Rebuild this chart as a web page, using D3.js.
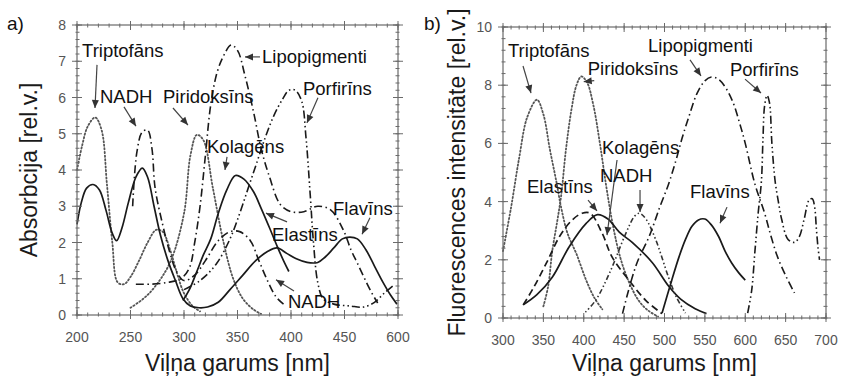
<!DOCTYPE html>
<html><head><meta charset="utf-8">
<script src="https://cdn.jsdelivr.net/npm/d3@7"></script>
<style>
body{margin:0;background:#fff}
text{font-family:Arial,"Liberation Sans",Helvetica,sans-serif}
</style>
</head><body>
<svg id="chart" width="841" height="376"></svg>
<script>
// ---------- Panel a) Absorption ----------
const absXTicks = [200,250,300,350,400,450,500];
const absXTickLabels = ["200","250","300","350","400","450","600"];
const absYTicks = [0,1,2,3,4,5,6,7,8];

const absTriptofans = [[200,4.0],[205,4.7],[210,5.2],[217,5.45],[223,5.1],[228,3.6],[233,2.0],[238,0.9],[244,0.85],[250,1.05],[258,1.5],[266,2.0],[274,2.35],[280,2.3],[287,1.8],[294,1.1],[300,0.6],[308,0.25],[315,0.1]];
const absPiridoksins = [[250,0.2],[262,0.45],[272,0.75],[287,1.45],[300,2.8],[306,4.4],[312,4.97],[318,4.83],[327,3.5],[337,2.0],[346,1.0],[355,0.45],[365,0.15],[372,0.03]];
const absNADH = [[252,3.0],[256,4.5],[261,5.05],[266,5.1],[270,4.6],[273,3.5],[280,2.5],[286,1.8],[293,1.2],[300,0.95],[310,1.1],[320,1.5],[332,2.05],[343,2.3],[352,2.3],[362,2.05],[370,1.5],[378,0.95],[386,0.5],[393,0.3]];
const absLipopigmenti = [[255,0.85],[270,0.85],[285,0.9],[297,1.0],[305,1.3],[310,2.0],[315,3.0],[320,4.4],[325,5.8],[331,6.7],[337,7.15],[344,7.45],[350,7.3],[357,6.6],[365,5.6],[372,4.6],[380,3.8],[390,3.05],[400,2.85],[412,2.85],[425,3.0],[437,2.9],[449,2.34],[456,1.8],[462,1.43],[474,0.69],[481,0.33]];
const absPorfirins = [[300,0.7],[315,0.95],[330,1.4],[343,2.1],[352,2.8],[360,3.5],[368,4.2],[376,4.9],[384,5.5],[392,5.95],[398,6.2],[404,6.2],[410,5.9],[414,4.9],[418,3.3],[421,2.0],[425,0.9],[430,0.45],[440,0.3],[455,0.25],[468,0.22],[478,0.35],[487,0.6],[495,0.8]];
const absElastins = [[200,2.5],[204,3.1],[209,3.5],[215,3.6],[221,3.45],[227,2.9],[233,2.25],[237,2.05],[242,2.4],[248,3.1],[255,3.8],[261,4.05],[266,3.8],[272,3.0],[278,2.2],[285,1.5],[292,0.95],[299,0.45],[306,0.25],[314,0.2],[322,0.22],[332,0.35],[343,0.7],[355,1.1],[367,1.5],[378,1.75],[387,1.85],[396,1.7],[405,1.55],[415,1.45],[425,1.45],[432,1.6],[440,1.85],[448,2.1],[455,2.15],[462,2.1],[470,1.8],[478,1.35],[486,0.9],[493,0.55],[499,0.3]];
const absKolagens = [[299,0.4],[305,0.7],[312,1.2],[318,1.65],[325,2.1],[332,2.8],[340,3.45],[348,3.85],[356,3.75],[365,3.4],[372,2.95],[380,2.4],[387,1.9],[393,1.5],[398,1.2]];

// ---------- Panel b) Fluorescence ----------
const flXTicks = [300,350,400,450,500,550,600,650,700];
const flXTickLabels = ["300","350","400","450","500","550","600","650","700"];
const flYTicks = [0,2,4,6,8,10];

const flTriptofans = [[300,2.3],[310,3.8],[320,5.5],[330,6.9],[342,7.5],[350,7.0],[358,5.8],[366,4.7],[372,3.8],[380,2.9],[391,2.2],[403,1.3],[413,0.7],[423,0.3]];
const flPiridoksins = [[350,0.4],[356,1.1],[361,2.3],[367,3.3],[372,4.2],[378,5.8],[385,7.2],[391,8.0],[397,8.3],[404,8.1],[412,7.3],[420,6.0],[428,4.5],[436,3.2],[445,2.1],[455,1.3],[468,0.6],[480,0.25],[492,0.05]];
const flElastins = [[325,0.45],[337,1.0],[354,1.9],[370,2.8],[385,3.35],[398,3.6],[408,3.6],[423,2.9],[435,2.1],[456,1.3],[477,0.6],[497,0.15]];
const flKolagens = [[325,0.45],[342,0.8],[361,1.4],[382,2.45],[403,3.25],[417,3.55],[430,3.4],[444,2.95],[460,2.6],[485,1.9],[505,1.1],[520,0.65],[538,0.32],[552,0.15]];
const flNADH = [[402,0.2],[415,0.62],[432,1.55],[452,2.9],[463,3.5],[469,3.6],[477,3.4],[489,2.7],[505,1.4],[515,0.7],[526,0.17]];
const flFlavins = [[497,0.17],[509,1.3],[518,2.1],[526,2.7],[534,3.15],[542,3.37],[550,3.4],[558,3.2],[567,2.8],[575,2.3],[583,1.9],[592,1.55],[600,1.3]];
const flLipopigmenti = [[448,0.15],[455,0.9],[466,1.9],[481,2.8],[494,3.8],[505,4.6],[514,5.4],[522,6.2],[530,6.9],[540,7.7],[550,8.15],[558,8.28],[567,8.2],[576,7.9],[585,7.4],[593,6.7],[600,6.0],[612,4.6],[624,3.6],[632,2.8],[640,2.1],[651,1.4],[661,0.86]];
const flPorfirins = [[603,0.17],[608,0.96],[612,2.3],[616,3.6],[620,4.7],[622,6.2],[624,7.3],[627,7.65],[630,7.4],[633,6.0],[637,4.7],[641,4.0],[645,3.4],[653,2.7],[661,2.6],[667,2.8],[673,3.4],[679,4.05],[683,4.1],[686,3.8],[688,3.1],[690,2.45],[692,2.0]];

// ---------- layout / styles (not data) ----------
const styles = {
  solid:   {stroke:"#1a1a1a", dash:null, w:1.7},
  dotted:  {stroke:"#555", dash:"1.3,2.3", w:1.8},
  dashed:  {stroke:"#1a1a1a", dash:"7,4", w:1.7},
  dashdot: {stroke:"#1a1a1a", dash:"8,3.5,1.5,3.5", w:1.6},
  dashdotdot: {stroke:"#1a1a1a", dash:"8,3,1.5,3,1.5,3", w:1.6},
  dotdash: {stroke:"#333", dash:"1.5,2.5,1.5,2.5,5,2.5", w:1.6}
};

const svg = d3.select("#chart");

function drawPanel(p){
  const x = d3.scaleLinear().domain(p.xDomain).range([p.left, p.right]);
  const y = d3.scaleLinear().domain(p.yDomain).range([p.bottom, p.top]);
  const g = svg.append("g");
  const frameColor = "#6a6a6a";

  // curves
  const line = d3.line().x(d=>x(d[0])).y(d=>y(d[1])).curve(d3.curveCatmullRom.alpha(0.5));
  p.series.forEach(s=>{
    const st = styles[s.style];
    g.append("path").datum(s.data).attr("d", line)
      .attr("fill","none").attr("stroke", st.stroke).attr("stroke-width", st.w)
      .attr("stroke-dasharray", st.dash).attr("stroke-linecap", s.style==="dotted"?"round":"butt");
  });

  // frame
  g.append("rect").attr("x",p.left).attr("y",p.top)
    .attr("width",p.right-p.left).attr("height",p.bottom-p.top)
    .attr("fill","none").attr("stroke",frameColor).attr("stroke-width",1.2);

  // minor ticks
  const xMinor = d3.range(p.xDomain[0], p.xDomain[1]+0.001, p.xMinorStep);
  const yMinor = d3.range(p.yDomain[0], p.yDomain[1]+0.001, p.yMinorStep);
  const tickG = g.append("g").attr("stroke",frameColor).attr("stroke-width",1);
  xMinor.forEach(v=>{
    tickG.append("line").attr("x1",x(v)).attr("x2",x(v)).attr("y1",p.bottom-2.5).attr("y2",p.bottom+1.5);
    tickG.append("line").attr("x1",x(v)).attr("x2",x(v)).attr("y1",p.top-1.5).attr("y2",p.top+2.5);
  });
  yMinor.forEach(v=>{
    tickG.append("line").attr("y1",y(v)).attr("y2",y(v)).attr("x1",p.left-1.5).attr("x2",p.left+2.5);
    tickG.append("line").attr("y1",y(v)).attr("y2",y(v)).attr("x1",p.right-2.5).attr("x2",p.right+1.5);
  });
  // major ticks
  p.xTicks.forEach(v=>{
    tickG.append("line").attr("x1",x(v)).attr("x2",x(v)).attr("y1",p.bottom-5).attr("y2",p.bottom+4);
    tickG.append("line").attr("x1",x(v)).attr("x2",x(v)).attr("y1",p.top-4).attr("y2",p.top+5);
  });
  p.yTicks.forEach(v=>{
    tickG.append("line").attr("y1",y(v)).attr("y2",y(v)).attr("x1",p.left-5).attr("x2",p.left+5);
    tickG.append("line").attr("y1",y(v)).attr("y2",y(v)).attr("x1",p.right-5).attr("x2",p.right+5);
  });

  // tick labels
  p.xTicks.forEach((v,i)=>{
    g.append("text").attr("x",x(v)).attr("y",p.bottom+27).attr("text-anchor","middle")
      .attr("font-size",14).attr("fill","#555").text(p.xTickLabels[i]);
  });
  p.yTicks.forEach(v=>{
    g.append("text").attr("x",p.left-11).attr("y",y(v)+5).attr("text-anchor","end")
      .attr("font-size",14).attr("fill","#555").text(v);
  });

  // axis titles
  g.append("text").attr("x",(p.left+p.right)/2).attr("y",371).attr("text-anchor","middle")
    .attr("font-size",23).attr("fill","#1a1a1a").text("Viļņa garums [nm]");
  g.append("text").attr("transform",`translate(${p.yTitleX},${(p.top+p.bottom)/2}) rotate(-90)`)
    .attr("text-anchor","middle").attr("font-size",23).attr("fill","#1a1a1a").text(p.yTitle);

  // panel letter
  g.append("text").attr("x",p.letterX).attr("y",30).attr("font-size",19).attr("fill","#111").text(p.letter);

  // annotations
  const defs = svg.select("defs").empty()? svg.append("defs") : svg.select("defs");
  p.labels.forEach(a=>{
    g.append("text").attr("x",x(a.at[0])).attr("y",y(a.at[1])).attr("font-size",18.5)
      .attr("fill","#111").text(a.text);
    if(a.from){
      const x1=x(a.from[0]), y1=y(a.from[1]), x2=x(a.to[0]), y2=y(a.to[1]);
      g.append("line").attr("x1",x1).attr("y1",y1).attr("x2",x2).attr("y2",y2)
        .attr("stroke","#444").attr("stroke-width",1.2);
      const ang = Math.atan2(y2-y1,x2-x1), L=8, W=3.5;
      const bx = x2-L*Math.cos(ang), by = y2-L*Math.sin(ang);
      const pts = [[x2,y2],[bx+W*Math.sin(ang),by-W*Math.cos(ang)],[bx-W*Math.sin(ang),by+W*Math.cos(ang)]];
      g.append("polygon").attr("points",pts.map(q=>q.join(",")).join(" ")).attr("fill","#333");
    }
  });
}

drawPanel({
  left:77, right:398, top:25, bottom:315,
  xDomain:[200,500], yDomain:[0,8], xMinorStep:10, yMinorStep:0.2,
  xTicks:absXTicks, xTickLabels:absXTickLabels, yTicks:absYTicks,
  yTitle:"Absorbcija [rel.v.]", yTitleX:37, letter:"a)", letterX:7,
  series:[
    {data:absTriptofans, style:"dotted"},
    {data:absPiridoksins, style:"dotted"},
    {data:absNADH, style:"dashdot"},
    {data:absLipopigmenti, style:"dashdot"},
    {data:absPorfirins, style:"dashdotdot"},
    {data:absElastins, style:"solid"},
    {data:absKolagens, style:"solid"}
  ],
  labels:[
    {text:"Triptofāns", at:[204.7,7.12], from:[218.7,6.9], to:[216.8,5.71]},
    {text:"NADH", at:[221.5,5.85], from:[243.9,5.74], to:[255.1,5.21]},
    {text:"Piridoksīns", at:[280.4,5.85], from:[289.7,5.71], to:[303.7,5.24]},
    {text:"Lipopigmenti", at:[372.9,6.95], from:[371,7.12], to:[357,7.12]},
    {text:"Porfirīns", at:[411.2,6.07], from:[425.2,5.99], to:[414.9,5.30]},
    {text:"Kolagēns", at:[321.5,4.47], from:[340.2,4.36], to:[338.3,4.0]},
    {text:"Flavīns", at:[439.3,2.76], from:[473.8,2.68], to:[466.4,2.23]},
    {text:"Elastīns", at:[382.2,2.04], from:[396.3,2.57], to:[376.6,2.81]},
    {text:"NADH", at:[397.2,0.19], from:[402.8,0.66], to:[386,0.97]}
  ]
});

drawPanel({
  left:503, right:826, top:27, bottom:318,
  xDomain:[300,700], yDomain:[0,10], xMinorStep:10, yMinorStep:0.4,
  xTicks:flXTicks, xTickLabels:flXTickLabels, yTicks:flYTicks,
  yTitle:"Fluorescences intensitāte [rel.v.]", yTitleX:465, letter:"b)", letterX:424,
  series:[
    {data:flTriptofans, style:"dotted"},
    {data:flPiridoksins, style:"dotted"},
    {data:flElastins, style:"dashed"},
    {data:flKolagens, style:"solid"},
    {data:flNADH, style:"dotdash"},
    {data:flFlavins, style:"solid"},
    {data:flLipopigmenti, style:"dashdot"},
    {data:flPorfirins, style:"dashdotdot"}
  ],
  labels:[
    {text:"Triptofāns", at:[306.2,8.97], from:[324.8,8.66], to:[334.7,7.73]},
    {text:"Piridoksīns", at:[405,8.35], from:[413,8.16], to:[400,8.12]},
    {text:"Lipopigmenti", at:[479.6,9.14], from:[531.6,8.87], to:[545.2,8.32]},
    {text:"Porfirīns", at:[581.1,8.32], from:[599.7,8.21], to:[619.5,7.73]},
    {text:"Kolagēns", at:[422.6,5.64], from:[441.2,5.43], to:[428.8,2.85]},
    {text:"NADH", at:[420.1,4.67], from:[469.7,4.40], to:[469.7,3.64]},
    {text:"Elastīns", at:[329.7,4.30], from:[405.3,4.05], to:[416.4,3.68]},
    {text:"Flavīns", at:[531.6,4.12], from:[577.4,3.81], to:[568.7,3.26]}
  ]
});
</script>
</body></html>
